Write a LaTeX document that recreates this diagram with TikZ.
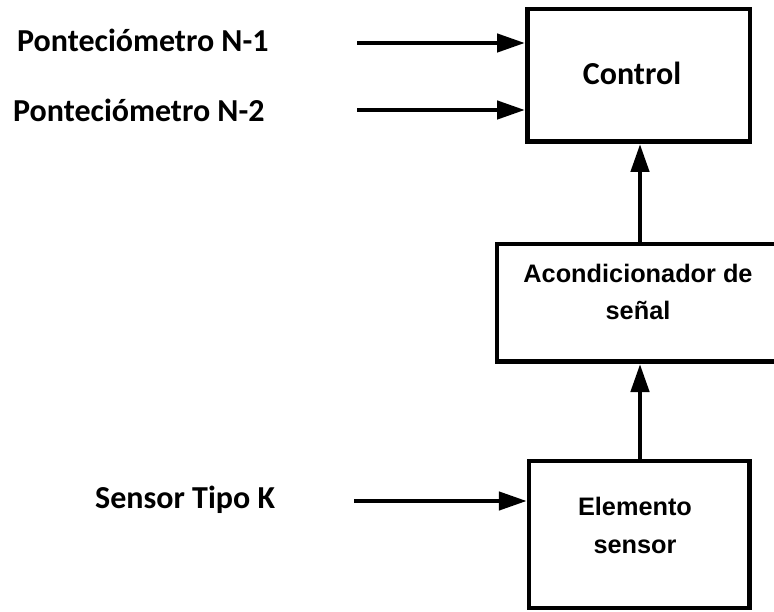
\documentclass[tikz,border=0pt]{standalone}
\usepackage{fontspec}
\setmainfont{Carlito}
\newfontfamily\arialb{Liberation Sans}[BoldFont={* Bold}]
\usetikzlibrary{arrows.meta}
\begin{document}
\begin{tikzpicture}[x=1pt,y=-1pt,
  box/.style={draw=black, line width=4.5pt, fill=white, inner sep=0pt},
  lbl/.style={font=\fontsize{32}{37}\selectfont\bfseries, inner sep=0pt},
  btxt/.style={font=\fontsize{25.3}{37}\selectfont\arialb\bfseries, inner sep=0pt, anchor=base},
  arr/.style={line width=4.5pt, -{Triangle[length=28pt,width=18pt]}}]
\clip (0,0) rectangle (774,612);
\fill[white] (0,0) rectangle (774,612);
% boxes
\node[box, minimum width=222.5pt, minimum height=132.5pt] (ctrl) at (638.5,75.5) {};
\node[box, minimum width=303pt, minimum height=117.5pt] (acond) at (648.6,303) {};
\node[box, minimum width=220.5pt, minimum height=147pt] (elem) at (639.3,534.5) {};
% box texts
\node[lbl, anchor=base] (ctrlt) at (632,85) {Control};
\node[btxt] (acond1) at (638,283) {Acondicionador de};
\node[btxt] (acond2) at (638,320) {señal};
\node[btxt] (elem1) at (635,515) {Elemento};
\node[btxt] (elem2) at (635,553) {sensor};
% left labels
\node[lbl, anchor=base west] (p1) at (17,52) {Ponteciómetro N-1};
\node[lbl, anchor=base west] (p2) at (13,122) {Ponteciómetro N-2};
\node[lbl, anchor=base west] (sk) at (95,508) {Sensor Tipo K};
% arrow starts
\coordinate (s1) at (357,43);
\coordinate (s2) at (357,110);
\coordinate (s3) at (354,501);
\coordinate (ax) at (640,0);
\draw[arr] (s1) -- (s1 -| ctrl.west);
\draw[arr] (s2) -- (s2 -| ctrl.west);
\draw[arr] (s3) -- (s3 -| elem.west);
\draw[arr] (acond.north -| ax) -- (ctrl.south -| ax);
\draw[arr] (elem.north -| ax) -- (acond.south -| ax);
\end{tikzpicture}
\end{document}
